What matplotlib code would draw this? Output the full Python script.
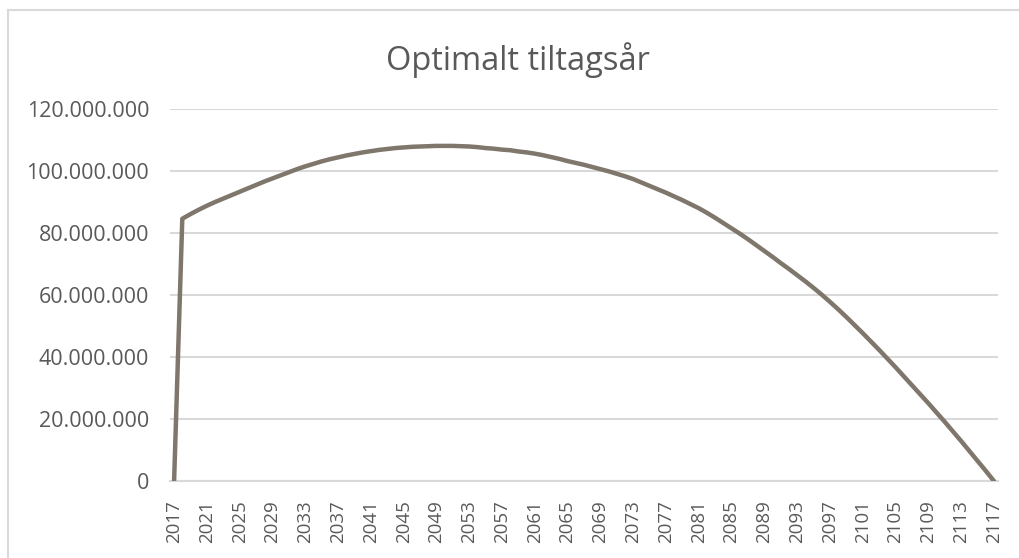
import matplotlib.pyplot as plt
from matplotlib.lines import Line2D
from matplotlib.ticker import FuncFormatter

plt.rcParams['font.family'] = ['Open Sans', 'DejaVu Sans']

years = list(range(2017, 2118))

# net value per start year, in millions
values_mio = [
    0.0, 84.6, 86.1, 87.5, 88.8, 90.0, 91.1, 92.2, 93.3, 94.4,      # 2017-2026
    95.5, 96.6, 97.6, 98.6, 99.6, 100.6, 101.5, 102.3, 103.1, 103.8,  # 2027-2036
    104.4, 105.0, 105.5, 106.0, 106.4, 106.8, 107.1, 107.4, 107.6, 107.8,  # 2037-2046
    107.9, 108.0, 108.1, 108.1, 108.1, 108.0, 107.9, 107.7, 107.4, 107.2,  # 2047-2056
    106.9, 106.7, 106.3, 106.0, 105.6, 105.1, 104.5, 103.9, 103.2, 102.6,  # 2057-2066
    102.0, 101.3, 100.6, 99.9, 99.1, 98.3, 97.4, 96.3, 95.2, 94.1,     # 2067-2076
    93.0, 91.8, 90.6, 89.3, 88.0, 86.5, 84.9, 83.2, 81.5, 79.8,        # 2077-2086
    78.0, 76.1, 74.2, 72.3, 70.3, 68.4, 66.4, 64.4, 62.3, 60.1,        # 2087-2096
    57.8, 55.4, 52.9, 50.3, 47.7, 45.0, 42.3, 39.5, 36.7, 33.8,        # 2097-2106
    30.9, 28.0, 25.1, 22.1, 19.1, 16.0, 12.9, 9.7, 6.5, 3.3,           # 2107-2116
    0.0,                                                              # 2117
]
values = [v * 1e6 for v in values_mio]

title = 'Optimalt tiltagsår'
yticks = [0, 20e6, 40e6, 60e6, 80e6, 100e6, 120e6]
xticks = years[::4]

text_col = '#595959'
grid_col = '#d9d9d9'
line_col = '#7f766c'

fig = plt.figure(figsize=(10.19, 5.58), dpi=100)
ax = fig.add_axes([170 / 1019, 1 - 481 / 558, 828 / 1019, 372 / 558])

ax.plot(years, values, color=line_col, linewidth=3.2, solid_capstyle='round',
        solid_joinstyle='round', zorder=3)

ax.set_xlim(2016.5, 2117.5)
ax.set_ylim(0, 120e6)
ax.set_yticks(yticks)
ax.set_xticks(xticks)
ax.set_xticklabels([str(y) for y in xticks], rotation=90)


def dot_thousands(v, pos):
    return f'{int(round(v)):,}'.replace(',', '.')


ax.yaxis.set_major_formatter(FuncFormatter(dot_thousands))
ax.tick_params(axis='y', length=0, pad=15, labelsize=15.5, labelcolor=text_col)
ax.tick_params(axis='x', length=0, pad=14, labelsize=13.5, labelcolor=text_col)
ax.grid(axis='y', color=grid_col, linewidth=1.5)
ax.set_axisbelow(True)
for side in ['left', 'right', 'top']:
    ax.spines[side].set_visible(False)
ax.spines['bottom'].set_color(grid_col)
ax.spines['bottom'].set_linewidth(1.5)

fig.text(518 / 1019, 1 - 60 / 558, title, ha='center', va='center',
         fontsize=23.5, color=text_col)

# chart area frame (left and top edges)
fig.add_artist(Line2D([8 / 1019, 8 / 1019], [0, 1 - 10 / 558], color=grid_col, linewidth=1.5))
fig.add_artist(Line2D([8 / 1019, 1], [1 - 10 / 558, 1 - 10 / 558], color=grid_col, linewidth=1.5))

fig.savefig('out.png', dpi=100, facecolor='white')
